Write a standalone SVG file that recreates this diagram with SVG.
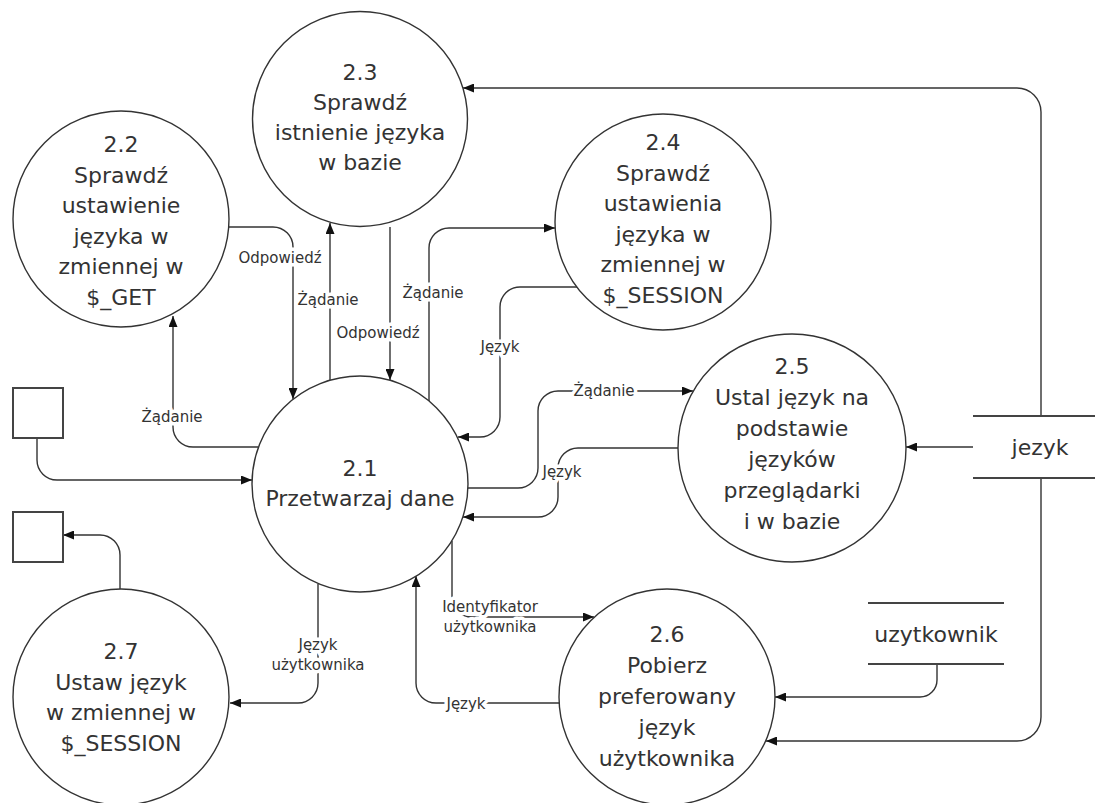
<svg xmlns="http://www.w3.org/2000/svg" width="1095" height="803" viewBox="0 0 1095 803">
<style>
.proc{fill:#fff;stroke:#333;stroke-width:1.4}
.box{fill:#fff;stroke:#444;stroke-width:2}
.store{stroke:#444;stroke-width:2}
.t{font-family:"DejaVu Sans",Verdana,sans-serif;font-size:22px;fill:#333;text-anchor:middle}
.l{font-family:"DejaVu Sans",Verdana,sans-serif;font-size:15px;fill:#333;text-anchor:middle;stroke:#fff;stroke-width:7;stroke-linejoin:round;paint-order:stroke}
.c{fill:none;stroke:#333;stroke-width:1.4;marker-end:url(#ah)}
.cn{fill:none;stroke:#333;stroke-width:1.4}
</style>
<defs>
<marker id="ah" markerUnits="userSpaceOnUse" markerWidth="11" markerHeight="9" refX="11" refY="4.5" orient="auto">
<path d="M0,0 L11,4.5 L0,9 z" fill="#111"/>
</marker>
</defs>
<rect width="1095" height="803" fill="#fff"/>

<g id="connectors">
<path class="c" d="M37,438 V460 A20,20 0 0 0 57,480 H252"/>
<path class="c" d="M120,589 V555 A20,20 0 0 0 100,535 H63"/>
<path class="c" d="M258,447 H193 A20,20 0 0 1 173,427 V316"/>
<path class="c" d="M229,227 H273 A20,20 0 0 1 293,247 V399"/>
<path class="c" d="M330,380 V223"/>
<path class="c" d="M390,227 V380"/>
<path class="c" d="M429,402 V248 A20,20 0 0 1 449,228 H555"/>
<path class="c" d="M577,287 H520 A20,20 0 0 0 500,307 V417 A20,20 0 0 1 480,437 H458"/>
<path class="c" d="M468,488 H518 A20,20 0 0 0 538,468 V411 A20,20 0 0 1 558,391 H693"/>
<path class="c" d="M679,448 H578 A20,20 0 0 0 558,468 V497 A20,20 0 0 1 538,517 H463"/>
<path class="c" d="M452,541 V597 A20,20 0 0 0 472,617 H594"/>
<path class="c" d="M559,703 H436 A20,20 0 0 1 416,683 V576"/>
<path class="c" d="M318,584 V683 A20,20 0 0 1 298,703 H230"/>
<path class="c" d="M1041,416 V112 A24,24 0 0 0 1017,88 H463"/>
<path class="c" d="M973,447 H906"/>
<path class="c" d="M1041,478 V717 A24,24 0 0 1 1017,741 H766"/>
<path class="c" d="M937,664 V680 A17,17 0 0 1 920,697 H775"/>
<text class="l" x="280" y="263">Odpowiedź</text>
<text class="l" x="328" y="305">Żądanie</text>
<text class="l" x="378" y="338">Odpowiedź</text>
<text class="l" x="433" y="298">Żądanie</text>
<text class="l" x="500" y="352">Język</text>
<text class="l" x="604" y="396">Żądanie</text>
<text class="l" x="562" y="477">Język</text>
<text class="l" x="172" y="422">Żądanie</text>
<text class="l" x="490" y="612">Identyfikator</text>
<text class="l" x="490" y="632">użytkownika</text>
<text class="l" x="466" y="709">Język</text>
<text class="l" x="318" y="650">Język</text>
<text class="l" x="318" y="670">użytkownika</text>
</g>

<g id="n21"><circle class="proc" cx="360" cy="484" r="108"/>
<text class="t" x="360" y="476">2.1</text><text class="t" x="360" y="506">Przetwarzaj dane</text></g>

<g id="n22"><circle class="proc" cx="121" cy="219" r="108"/>
<text class="t" x="121" y="152">2.2</text><text class="t" x="121" y="183">Sprawdź</text><text class="t" x="121" y="213">ustawienie</text><text class="t" x="121" y="244">języka w</text><text class="t" x="121" y="274">zmiennej w</text><text class="t" x="121" y="305">$_GET</text></g>

<g id="n23"><circle class="proc" cx="360" cy="119" r="107.5"/>
<text class="t" x="360" y="80">2.3</text><text class="t" x="360" y="110">Sprawdź</text><text class="t" x="360" y="140">istnienie języka</text><text class="t" x="360" y="170">w bazie</text></g>

<g id="n24"><circle class="proc" cx="663" cy="222" r="108"/>
<text class="t" x="663" y="150">2.4</text><text class="t" x="663" y="181">Sprawdź</text><text class="t" x="663" y="211">ustawienia</text><text class="t" x="663" y="242">języka w</text><text class="t" x="663" y="272">zmiennej w</text><text class="t" x="663" y="303">$_SESSION</text></g>

<g id="n25"><circle class="proc" cx="792" cy="448" r="114"/>
<text class="t" x="792" y="374">2.5</text><text class="t" x="792" y="405">Ustal język na</text><text class="t" x="792" y="436">podstawie</text><text class="t" x="792" y="467">języków</text><text class="t" x="792" y="498">przeglądarki</text><text class="t" x="792" y="529">i w bazie</text></g>

<g id="n26"><circle class="proc" cx="667" cy="697" r="108"/>
<text class="t" x="667" y="642">2.6</text><text class="t" x="667" y="673">Pobierz</text><text class="t" x="667" y="704">preferowany</text><text class="t" x="667" y="735">język</text><text class="t" x="667" y="766">użytkownika</text></g>

<g id="n27"><circle class="proc" cx="121" cy="697" r="108"/>
<text class="t" x="121" y="659">2.7</text><text class="t" x="121" y="690">Ustaw język</text><text class="t" x="121" y="720">w zmiennej w</text><text class="t" x="121" y="751">$_SESSION</text></g>

<g id="ext1"><rect class="box" x="13" y="388" width="50" height="50"/></g>
<g id="ext2"><rect class="box" x="13" y="512" width="50" height="50"/></g>

<g id="store-jezyk"><line class="store" x1="973" y1="416" x2="1095" y2="416"/><line class="store" x1="973" y1="478" x2="1095" y2="478"/>
<text class="t" x="1040" y="455">jezyk</text></g>

<g id="store-uzytkownik"><line class="store" x1="868" y1="603" x2="1004" y2="603"/><line class="store" x1="868" y1="664" x2="1004" y2="664"/>
<text class="t" x="936" y="642">uzytkownik</text></g>
</svg>
